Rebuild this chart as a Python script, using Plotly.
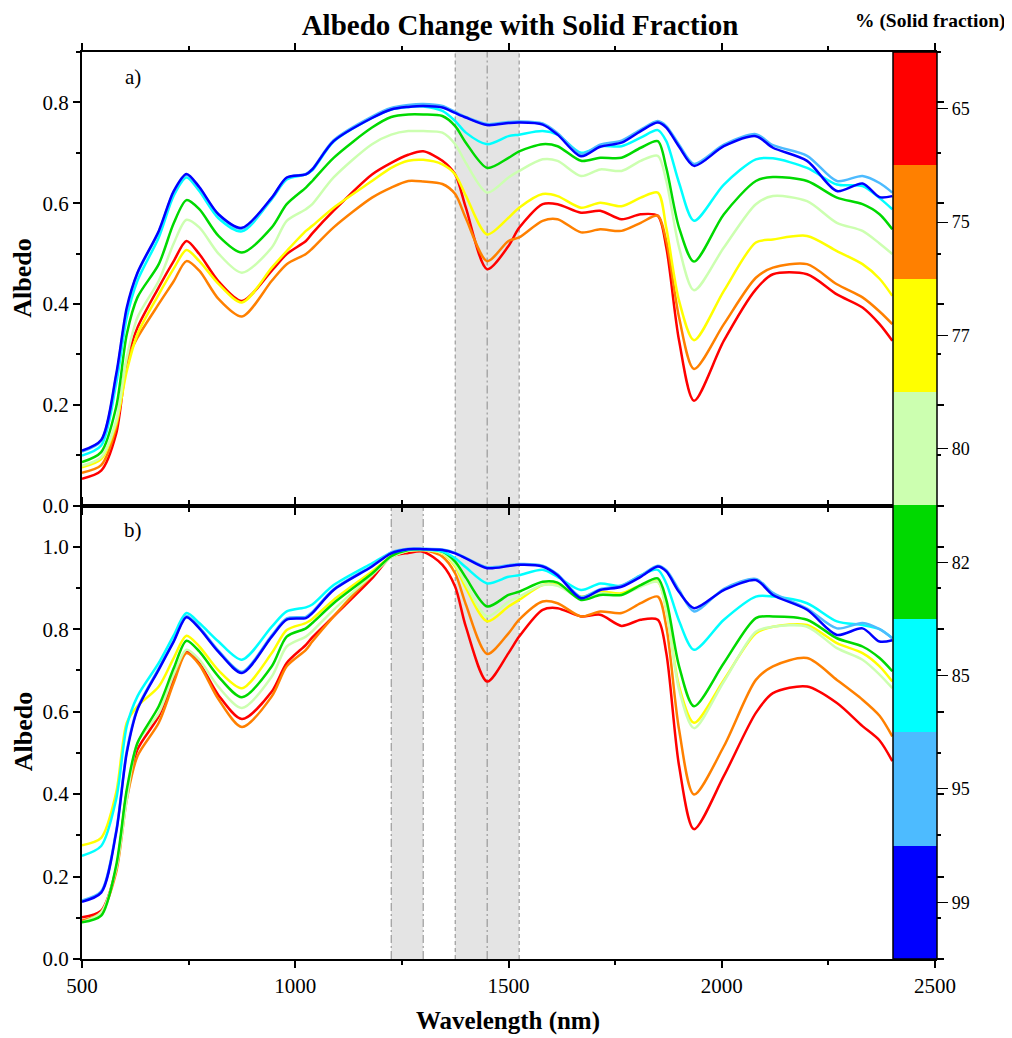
import plotly.graph_objects as go
from plotly.subplots import make_subplots

wavelength = [500, 545, 580, 605, 630, 680, 715, 745, 775, 820, 875, 945, 980, 1025, 1040, 1090,
              1180, 1225, 1265, 1300, 1345, 1375, 1400, 1450, 1500, 1525, 1580, 1615, 1670, 1715,
              1765, 1810, 1850, 1870, 1900, 1935, 2005, 2080, 2120, 2200, 2270, 2330, 2370, 2400]

solid_fraction = ["65", "75", "77", "80", "82", "85", "95", "99"]
colors = ["#ff0000", "#ff8000", "#ffff00", "#ccffb0", "#00d900", "#00ffff", "#4dbbff", "#0000ff"]

# ---- panel a) ----
a_65 = [.053, .069, .142, .285, .353, .433, .485, .525, .499, .445, .406, .466, .499, .525, .540, .585,
        .657, .680, .696, .703, .684, .657, .591, .469, .515, .551, .598, .598, .581, .585,
        .568, .578, .575, .512, .327, .208, .327, .429, .459, .459, .419, .393, .360, .327]
a_75 = [.065, .080, .155, .287, .333, .400, .445, .485, .466, .410, .375, .446, .479, .499, .510, .552,
        .611, .631, .644, .643, .638, .618, .570, .485, .525, .532, .565, .568, .542, .548,
        .545, .561, .575, .525, .373, .271, .360, .452, .472, .479, .439, .413, .385, .360]
a_77 = [.076, .092, .162, .267, .340, .419, .470, .507, .485, .440, .403, .472, .505, .545, .555, .591,
        .644, .670, .684, .686, .677, .657, .615, .538, .571, .591, .618, .614, .591, .601,
        .594, .611, .621, .551, .406, .328, .426, .522, .528, .535, .505, .479, .450, .416]
a_80 = [.079, .096, .168, .294, .373, .446, .520, .567, .552, .500, .462, .512, .565, .588, .598, .651,
        .717, .736, .743, .743, .740, .717, .680, .621, .651, .664, .687, .684, .654, .667,
        .664, .684, .694, .644, .512, .427, .512, .598, .614, .604, .561, .545, .520, .499]
a_82 = [.086, .106, .195, .340, .413, .479, .560, .606, .588, .535, .502, .552, .598, .631, .644, .690,
        .750, .771, .776, .776, .773, .753, .720, .670, .690, .703, .717, .713, .684, .690,
        .690, .710, .723, .670, .551, .484, .578, .644, .652, .644, .611, .598, .578, .548]
a_85 = [.099, .119, .241, .373, .446, .532, .615, .651, .624, .570, .544, .608, .647, .657, .665, .722,
        .769, .786, .791, .792, .783, .763, .740, .717, .733, .736, .743, .736, .700, .713,
        .713, .730, .745, .723, .640, .565, .637, .687, .689, .670, .637, .634, .610, .588]
a_95 = [.107, .128, .255, .388, .460, .543, .622, .656, .630, .577, .549, .610, .650, .658, .668, .725,
        .772, .789, .795, .797, .793, .781, .771, .757, .761, .762, .758, .739, .697, .716,
        .724, .746, .763, .753, .716, .678, .716, .737, .715, .694, .644, .654, .640, .621]
a_99 = [.109, .130, .260, .393, .462, .545, .624, .658, .632, .578, .551, .611, .651, .657, .667, .723,
        .769, .786, .791, .793, .790, .779, .770, .755, .759, .760, .756, .736, .693, .712,
        .720, .743, .760, .750, .712, .674, .713, .733, .710, .684, .624, .639, .612, .614]

# ---- panel b) ----
b_65 = [.101, .117, .218, .403, .508, .589, .680, .746, .718, .640, .582, .649, .718, .762, .780, .831,
        .923, .976, .985, .988, .956, .903, .806, .673, .742, .782, .847, .851, .831, .835,
        .808, .823, .823, .742, .468, .315, .444, .597, .645, .661, .621, .565, .530, .480]
b_75 = [.093, .113, .210, .387, .492, .573, .670, .742, .714, .630, .563, .637, .710, .750, .770, .831,
        .931, .976, .990, .992, .976, .935, .860, .740, .790, .823, .867, .863, .831, .843,
        .839, .863, .879, .806, .556, .399, .516, .677, .710, .730, .677, .629, .590, .540]
b_77 = [.276, .294, .403, .573, .613, .661, .730, .784, .758, .700, .657, .742, .798, .815, .825, .871,
        .940, .976, .990, .992, .984, .952, .900, .819, .855, .871, .907, .907, .879, .891,
        .887, .907, .915, .847, .661, .573, .677, .790, .806, .810, .766, .742, .710, .673]
b_80 = [.089, .113, .218, .387, .524, .597, .690, .750, .726, .660, .609, .685, .758, .782, .795, .847,
        .931, .974, .990, .992, .985, .956, .910, .831, .867, .879, .907, .905, .875, .887,
        .883, .903, .915, .847, .653, .560, .673, .794, .806, .806, .754, .726, .690, .657]
b_82 = [.089, .105, .226, .411, .524, .613, .705, .772, .746, .685, .635, .710, .782, .802, .815, .863,
        .935, .977, .992, .994, .988, .964, .925, .855, .883, .891, .915, .913, .871, .883,
        .883, .907, .923, .871, .710, .613, .718, .827, .831, .823, .778, .758, .730, .698]
b_85 = [.250, .274, .387, .565, .637, .718, .785, .839, .815, .770, .726, .806, .843, .853, .860, .907,
        .960, .985, .993, .994, .988, .972, .950, .911, .927, .931, .944, .927, .895, .911,
        .905, .931, .944, .911, .820, .750, .823, .879, .879, .863, .819, .810, .800, .778]
b_95 = [.142, .164, .310, .505, .608, .705, .772, .832, .805, .748, .697, .785, .826, .830, .842, .897,
        .954, .986, .995, .995, .993, .985, .973, .950, .955, .958, .954, .933, .878, .897,
        .906, .930, .954, .943, .895, .843, .898, .922, .888, .850, .802, .815, .800, .778]
b_99 = [.139, .161, .306, .500, .605, .702, .770, .829, .802, .745, .694, .782, .823, .827, .839, .895,
        .952, .984, .994, .994, .992, .984, .972, .948, .953, .956, .952, .931, .875, .895,
        .903, .927, .952, .940, .890, .851, .895, .919, .883, .847, .786, .802, .770, .773]

panel_a = [a_65, a_75, a_77, a_80, a_82, a_85, a_95, a_99]
panel_b = [b_65, b_75, b_77, b_80, b_82, b_85, b_95, b_99]

FONT = "Liberation Serif"

# figure geometry (the page adds an 8 px body margin)
W, H = 1004, 1030
ML, MR, MT, MB = 74, 77, 44, 79
PW = W - ML - MR
PH = H - MT - MB

fig = make_subplots(rows=2, cols=1, shared_xaxes=True, vertical_spacing=0)

for vals, c, name in zip(panel_a, colors, solid_fraction):
    fig.add_trace(go.Scatter(x=wavelength, y=vals, mode="lines", name=name,
                             line=dict(color=c, width=2.5, shape="spline", smoothing=0.8),
                             showlegend=False), row=1, col=1)
for vals, c, name in zip(panel_b, colors, solid_fraction):
    fig.add_trace(go.Scatter(x=wavelength, y=vals, mode="lines", name=name,
                             line=dict(color=c, width=2.5, shape="spline", smoothing=0.8),
                             showlegend=False), row=2, col=1)

# discrete colour bar
n = len(colors)
rev = colors[::-1]
cscale = []
for i, c in enumerate(rev):
    cscale.append([i / n, c])
    cscale.append([(i + 1) / n, c])
fig.add_trace(go.Scatter(
    x=[None], y=[None], mode="markers", showlegend=False, hoverinfo="skip",
    marker=dict(color=[0, n], cmin=0, cmax=n, colorscale=cscale, showscale=True,
                colorbar=dict(
                    tickvals=[i + 0.5 for i in range(n)],
                    ticktext=solid_fraction[::-1],
                    ticks="outside", ticklen=11, tickcolor="black", tickwidth=1,
                    thicknessmode="pixels", thickness=44,
                    lenmode="fraction", len=1.0,
                    x=(893 - 82) / 853, xanchor="left", xpad=0,
                    y=1.0, yanchor="top", ypad=0,
                    outlinecolor="black", outlinewidth=1.5,
                    tickfont=dict(family=FONT, size=18, color="black"),
                ))), row=1, col=1)

# shaded bands
bands_a = [(1375, 1525)]
bands_b = [(1225, 1300), (1375, 1525)]
lines_a = [(1375, "4px,3px"), (1450, "8px,3px,2px,3px"), (1525, "4px,3px")]
lines_b = [(1225, "8px,3px,2px,3px"), (1300, "8px,3px,2px,3px"), (1375, "4px,3px"),
           (1450, "8px,3px,2px,3px"), (1525, "4px,3px")]
for row, bands, lines in [(1, bands_a, lines_a), (2, bands_b, lines_b)]:
    yref = "y domain" if row == 1 else "y2 domain"
    for x0, x1 in bands:
        fig.add_shape(type="rect", xref="x", yref=yref, x0=x0, x1=x1, y0=0, y1=1,
                      fillcolor="#e4e4e4", line_width=0, layer="below")
    for xv, dash in lines:
        fig.add_shape(type="line", xref="x", yref=yref, x0=xv, x1=xv, y0=0, y1=1,
                      line=dict(color="#8a8a8a", width=1, dash=dash), layer="below")

axis_common = dict(showline=True, linecolor="black", linewidth=2, mirror="ticks",
                   ticks="outside", tickcolor="black", tickwidth=1.5, ticklen=7,
                   showgrid=False, zeroline=False,
                   tickfont=dict(family=FONT, size=21, color="black"))

fig.update_xaxes(range=[500, 2500], dtick=500, tick0=500,
                 minor=dict(dtick=250, ticks="outside", ticklen=4, tickcolor="black"),
                 **axis_common)
fig.update_xaxes(showticklabels=False, row=1, col=1)

fig.update_yaxes(range=[0, 0.9], dtick=0.2, tick0=0, tickformat=".1f",
                 minor=dict(dtick=0.1, ticks="outside", ticklen=4, tickcolor="black"),
                 row=1, col=1, **axis_common)
fig.update_yaxes(range=[0, 1.1], dtick=0.2, tick0=0, tickformat=".1f",
                 minor=dict(dtick=0.1, ticks="outside", ticklen=4, tickcolor="black"),
                 row=2, col=1, **axis_common)

# axis titles
for yref in ["y domain", "y2 domain"]:
    fig.add_annotation(text="<b>Albedo</b>", xref="paper", yref=yref,
                       x=(15 - ML) / PW, y=0.5, textangle=-90, showarrow=False,
                       font=dict(family=FONT, size=26, color="black"),
                       xanchor="center", yanchor="middle")
fig.add_annotation(text="<b>Wavelength (nm)</b>", xref="paper", yref="paper",
                   x=(500 - ML) / PW, y=(H - MB - 1013) / PH, showarrow=False,
                   font=dict(family=FONT, size=25, color="black"),
                   xanchor="center", yanchor="middle")

fig.add_annotation(text="a)", xref="x domain", yref="y domain", x=0.06, y=0.945,
                   showarrow=False, font=dict(family=FONT, size=21, color="black"),
                   xanchor="center", yanchor="middle")
fig.add_annotation(text="b)", xref="x2 domain", yref="y2 domain", x=0.06, y=0.945,
                   showarrow=False, font=dict(family=FONT, size=21, color="black"),
                   xanchor="center", yanchor="middle")
fig.add_annotation(text="<b>% (Solid fraction)</b>", xref="paper", yref="paper",
                   x=(922 - ML) / PW, y=(H - MB - 13) / PH, showarrow=False,
                   font=dict(family=FONT, size=19.5, color="black"), xanchor="center", yanchor="middle")

fig.update_layout(
    width=W, height=H,
    margin=dict(l=ML, r=MR, t=MT, b=MB),
    paper_bgcolor="white", plot_bgcolor="white",
    title=dict(text="<b>Albedo Change with Solid Fraction</b>", x=512 / W, xanchor="center",
               y=1 - 17 / H, yanchor="middle", pad=dict(t=0, b=0),
               font=dict(family=FONT, size=29, color="black")),
    font=dict(family=FONT, color="black"),
)

fig.write_html("out.html")
